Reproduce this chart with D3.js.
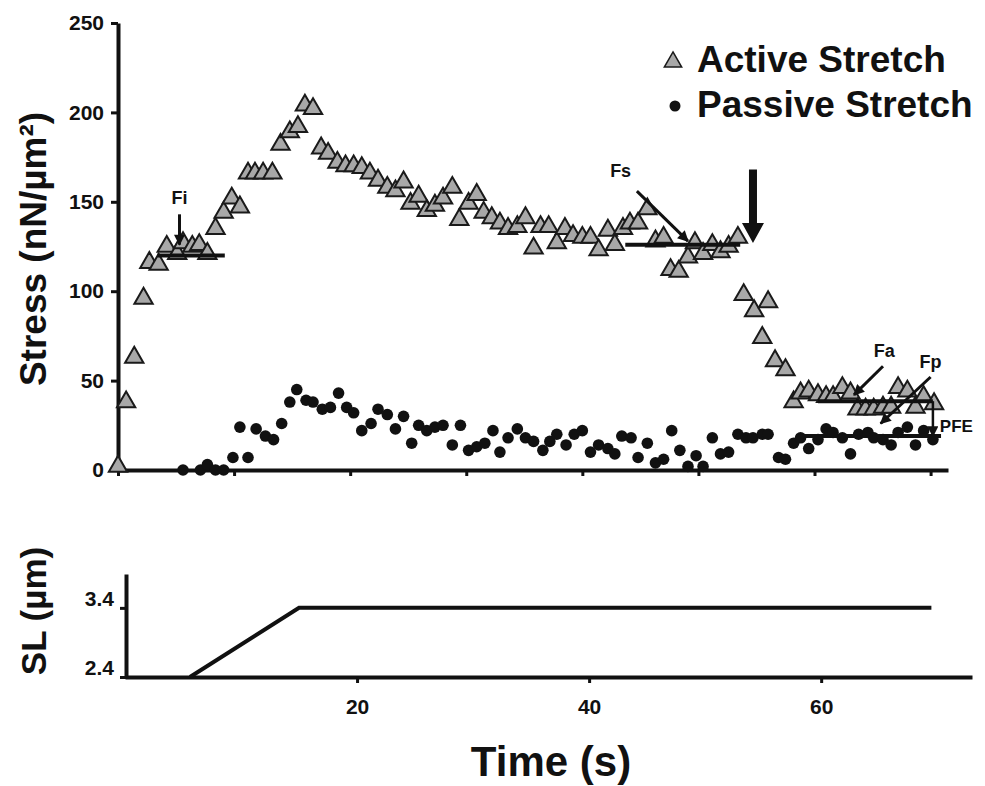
<!DOCTYPE html>
<html>
<head>
<meta charset="utf-8">
<script src="https://cdn.jsdelivr.net/npm/d3@7"></script>
<style>
  body { margin: 0; background: #fff; }
  text { font-family: "Liberation Sans", Arial, sans-serif; font-weight: bold; fill: #111; }
</style>
</head>
<body>
<div id="chart"></div>
<script>
const chartWidth = 985;
const chartHeight = 786;

// Active stretch (triangles): time in s, stress in nN/um2
const activeTime = [0, 0.7, 1.4, 2.2, 2.7, 3.5, 4.2, 5.1, 5.6, 6.4, 7.0, 7.7, 8.4, 9.1, 9.8, 10.5,
  11.2, 11.8, 12.5, 13.3, 14.0, 14.8, 15.5, 16.1, 16.8, 17.5, 18.1, 18.9, 19.6, 20.3, 21.0, 21.7,
  22.4, 23.2, 23.9, 24.6, 25.2, 25.9, 26.6, 27.3, 28.0, 28.8, 29.4, 30.2, 30.9, 31.5, 32.2, 32.9,
  33.6, 34.4, 35.1, 35.8, 36.4, 37.1, 37.8, 38.5, 39.2, 40.0, 40.7, 41.4, 42.2, 42.8, 43.5, 44.1,
  44.8, 45.6, 46.3, 47.0, 47.6, 48.3, 49.1, 49.7, 50.4, 51.2, 51.9, 52.6, 53.4, 53.9, 54.8, 55.5,
  56.0, 56.6, 57.5, 58.2, 58.8, 59.5, 60.3, 61.0, 61.6, 62.4, 63.1, 63.7, 64.4, 65.1, 65.9, 66.6,
  67.2, 68.0, 68.7, 69.4, 70.3];
const activeStress = [2, 38, 63, 96, 116, 115, 125, 121, 127, 125, 126, 121, 135, 144, 152, 147,
  166, 166, 166, 166, 182, 189, 192, 204, 202, 180, 177, 172, 170, 170, 169, 166,
  162, 158, 156, 161, 149, 153, 145, 148, 152, 158, 140, 149, 154, 144, 141, 138,
  135, 136, 141, 124, 136, 136, 127, 135, 131, 130, 130, 123, 134, 126, 135, 138,
  138, 146, 128, 130, 112, 111, 119, 127, 121, 126, 122, 125, 130, 98, 89, 74,
  94, 61, 56, 38, 43, 44, 42, 41, 41, 46, 43, 34, 34, 34, 35, 35,
  46, 44, 35, 41, 37];

// Passive stretch (circles)
const passiveTime = [5.6, 7.1, 7.7, 8.4, 9.1, 9.9, 10.5, 11.2, 11.9, 12.7, 13.4, 14.1, 14.8, 15.4,
  16.2, 16.8, 17.6, 18.3, 19.0, 19.7, 20.3, 21.0, 21.8, 22.4, 23.2, 23.9, 24.6, 25.3, 25.9, 26.6,
  27.3, 28.0, 28.8, 29.5, 30.2, 30.9, 31.6, 32.3, 32.9, 33.6, 34.4, 35.1, 35.8, 36.6, 37.2, 37.8,
  38.6, 39.3, 40.0, 40.7, 41.4, 42.2, 42.8, 43.4, 44.2, 44.8, 45.6, 46.3, 47.0, 47.7, 48.4, 49.1,
  49.8, 50.4, 51.2, 51.9, 52.6, 53.4, 54.1, 54.7, 55.5, 56.0, 56.9, 57.5, 58.2, 58.8, 59.5, 60.3,
  61.0, 61.6, 62.4, 63.1, 63.8, 64.6, 65.1, 65.9, 66.6, 67.2, 68.0, 68.7, 69.4, 70.2];
const passiveStress = [0, 0, 3, 0, 0, 7, 24, 7, 23, 19, 17, 26, 38, 45,
  39, 38, 34, 35, 43, 35, 32, 22, 26, 34, 31, 23, 30, 15, 25, 22,
  24, 25, 14, 25, 11, 13, 15, 22, 10, 18, 23, 18, 16, 11, 16, 20,
  14, 20, 22, 10, 14, 12, 9, 19, 18, 7, 15, 4, 6, 22, 11, 2,
  8, 2, 18, 9, 10, 20, 18, 18, 20, 20, 7, 6, 15, 18, 12, 17,
  23, 21, 18, 9, 20, 21, 18, 17, 14, 21, 24, 14, 22, 17];

// Sarcomere length protocol
const slTime = [5.6, 15, 69.5];
const slLength = [2.4, 3.4, 3.4];

const stressTicks = [0, 50, 100, 150, 200, 250];
const slTicks = [2.4, 3.4];
const topTimeTicks = [0, 10, 20, 30, 40, 50, 60, 70];
const bottomTimeTicks = [20, 40, 60];
const seriesNames = ['Active Stretch', 'Passive Stretch'];

// Force levels (horizontal bars) and labelled arrows, in data units
const levelLines = [
  { t0: 3.4, t1: 9.2, s: 120 },   // Fi
  { t0: 43.7, t1: 53.6, s: 126 }, // Fs
  { t0: 60.3, t1: 70.2, s: 38.5 },// Fa
  { t0: 58.4, t1: 70.9, s: 19 }   // Fp
];
const arrowLabels = [
  { name: 'Fi', tx: 5.3, ts: 149, t0: 5.3, s0: 143, t1: 5.3, s1: 126 },
  { name: 'Fs', tx: 43.3, ts: 164, t0: 44.7, s0: 156, t1: 49.1, s1: 128 },
  { name: 'Fa', tx: 66.0, ts: 63, t0: 65.9, s0: 58, t1: 63.4, s1: 42 },
  { name: 'Fp', tx: 70.0, ts: 57, t0: 70.0, s0: 52, t1: 65.7, s1: 26 }
];

const svg = d3.select('#chart')
  .append('svg')
  .attr('width', chartWidth)
  .attr('height', chartHeight);

svg.append('defs').append('marker')
  .attr('id', 'head')
  .attr('markerUnits', 'userSpaceOnUse')
  .attr('viewBox', '0 0 10 10')
  .attr('markerWidth', 12)
  .attr('markerHeight', 11)
  .attr('refX', 9)
  .attr('refY', 5)
  .attr('orient', 'auto')
  .append('path')
  .attr('d', 'M0,0L10,5L0,10Z')
  .attr('fill', '#111');

// Scales
const x = d3.scaleLinear().domain([0, 71.5]).range([118, 948]);
const y = d3.scaleLinear().domain([0, 250]).range([470, 23]);
const x2 = d3.scaleLinear().domain([0, 73]).range([125, 972]);
const y2 = d3.scaleLinear().domain([2.4, 3.89]).range([677, 574]);

function styleAxis(g, size) {
  g.select('.domain').attr('stroke', '#111').attr('stroke-width', 4);
  g.selectAll('.tick line').attr('stroke', '#111').attr('stroke-width', 3);
  g.selectAll('.tick text').attr('font-size', size).attr('font-family', '"Liberation Sans", Arial, sans-serif')
    .attr('font-weight', 'bold').attr('fill', '#111');
}

// Top panel axes
svg.append('g')
  .attr('transform', 'translate(0,470)')
  .call(d3.axisBottom(x).tickValues(topTimeTicks).tickSize(6).tickSizeOuter(0).tickFormat(''))
  .call(g => styleAxis(g, 21));

svg.append('g')
  .attr('transform', 'translate(118,0)')
  .call(d3.axisLeft(y).tickValues(stressTicks).tickSize(7).tickPadding(7).tickSizeOuter(0))
  .call(g => styleAxis(g, 21));

// Passive stretch points
svg.selectAll('.passive')
  .data(passiveTime)
  .enter()
  .append('circle')
  .attr('class', 'passive')
  .attr('cx', d => x(d))
  .attr('cy', (d, i) => y(passiveStress[i]))
  .attr('r', 5.8)
  .attr('fill', '#111');

// Active stretch points
const tri = d3.symbol().type(d3.symbolTriangle).size(145);
svg.selectAll('.active')
  .data(activeTime)
  .enter()
  .append('path')
  .attr('class', 'active')
  .attr('d', tri)
  .attr('transform', (d, i) => `translate(${x(d)},${y(activeStress[i])})`)
  .attr('fill', '#a8a8a8')
  .attr('stroke', '#1a1a1a')
  .attr('stroke-width', 2);

// Level lines
svg.selectAll('.level')
  .data(levelLines)
  .enter()
  .append('line')
  .attr('class', 'level')
  .attr('x1', d => x(d.t0))
  .attr('x2', d => x(d.t1))
  .attr('y1', d => y(d.s))
  .attr('y2', d => y(d.s))
  .attr('stroke', '#111')
  .attr('stroke-width', 4);

// Labelled arrows
svg.selectAll('.arrow')
  .data(arrowLabels)
  .enter()
  .append('line')
  .attr('class', 'arrow')
  .attr('x1', d => x(d.t0))
  .attr('y1', d => y(d.s0))
  .attr('x2', d => x(d.t1))
  .attr('y2', d => y(d.s1))
  .attr('stroke', '#111')
  .attr('stroke-width', 3)
  .attr('marker-end', 'url(#head)');

svg.selectAll('.arrow-label')
  .data(arrowLabels)
  .enter()
  .append('text')
  .attr('class', 'arrow-label')
  .attr('x', d => x(d.tx))
  .attr('y', d => y(d.ts))
  .attr('text-anchor', 'middle')
  .attr('font-size', 18)
  .text(d => d.name);

// PFE bracket
svg.append('line')
  .attr('x1', x(70.2)).attr('x2', x(70.2))
  .attr('y1', y(38.5)).attr('y2', y(19))
  .attr('stroke', '#111')
  .attr('stroke-width', 2.5)
  .attr('marker-end', 'url(#head)');
svg.append('text')
  .attr('x', x(70.8))
  .attr('y', y(21))
  .attr('font-size', 17)
  .text('PFE');

// Big downward arrow marking end of stretch/hold
const bx = x(54.7), bTop = y(168), bTip = y(127);
svg.append('path')
  .attr('d', `M${bx - 4},${bTop}L${bx + 4},${bTop}L${bx + 4},${bTip - 20}L${bx + 11},${bTip - 20}` +
    `L${bx},${bTip}L${bx - 11},${bTip - 20}L${bx - 4},${bTip - 20}Z`)
  .attr('fill', '#111');

// Legend
const legend = svg.append('g').attr('transform', 'translate(673,0)');
legend.append('path')
  .attr('d', d3.symbol().type(d3.symbolTriangle).size(130))
  .attr('transform', 'translate(0,62)')
  .attr('fill', '#a8a8a8')
  .attr('stroke', '#1a1a1a')
  .attr('stroke-width', 1.5);
legend.append('circle')
  .attr('cx', 2).attr('cy', 106).attr('r', 5.5)
  .attr('fill', '#111');
legend.selectAll('.legend-text')
  .data(seriesNames)
  .enter()
  .append('text')
  .attr('class', 'legend-text')
  .attr('x', 24)
  .attr('y', (d, i) => 72 + i * 45)
  .attr('font-size', 37)
  .text(d => d);

svg.append('text')
  .attr('transform', 'translate(46,249) rotate(-90)')
  .attr('text-anchor', 'middle')
  .attr('font-size', 37)
  .text('Stress (nN/µm²)');

// Bottom panel: sarcomere length
svg.append('g')
  .attr('transform', 'translate(0,677)')
  .call(d3.axisBottom(x2).tickValues(bottomTimeTicks).tickSize(6).tickPadding(16).tickSizeOuter(0))
  .call(g => styleAxis(g, 21));

svg.append('g')
  .attr('transform', 'translate(126,0)')
  .call(d3.axisLeft(y2).tickValues(slTicks).tickSize(6).tickPadding(6).tickSizeOuter(0).tickFormat(d3.format('.1f')))
  .call(g => styleAxis(g, 21))
  .call(g => g.selectAll('.tick text').attr('dy', '-0.1em'));

const slLine = d3.line()
  .x(d => x2(d))
  .y((d, i) => y2(slLength[i]));

svg.append('path')
  .datum(slTime)
  .attr('d', slLine)
  .attr('fill', 'none')
  .attr('stroke', '#111')
  .attr('stroke-width', 4);

svg.append('text')
  .attr('transform', 'translate(46,611) rotate(-90)')
  .attr('text-anchor', 'middle')
  .attr('font-size', 35)
  .text('SL (µm)');

svg.append('text')
  .attr('x', 551)
  .attr('y', 776)
  .attr('text-anchor', 'middle')
  .attr('font-size', 42)
  .text('Time (s)');
</script>
</body>
</html>
